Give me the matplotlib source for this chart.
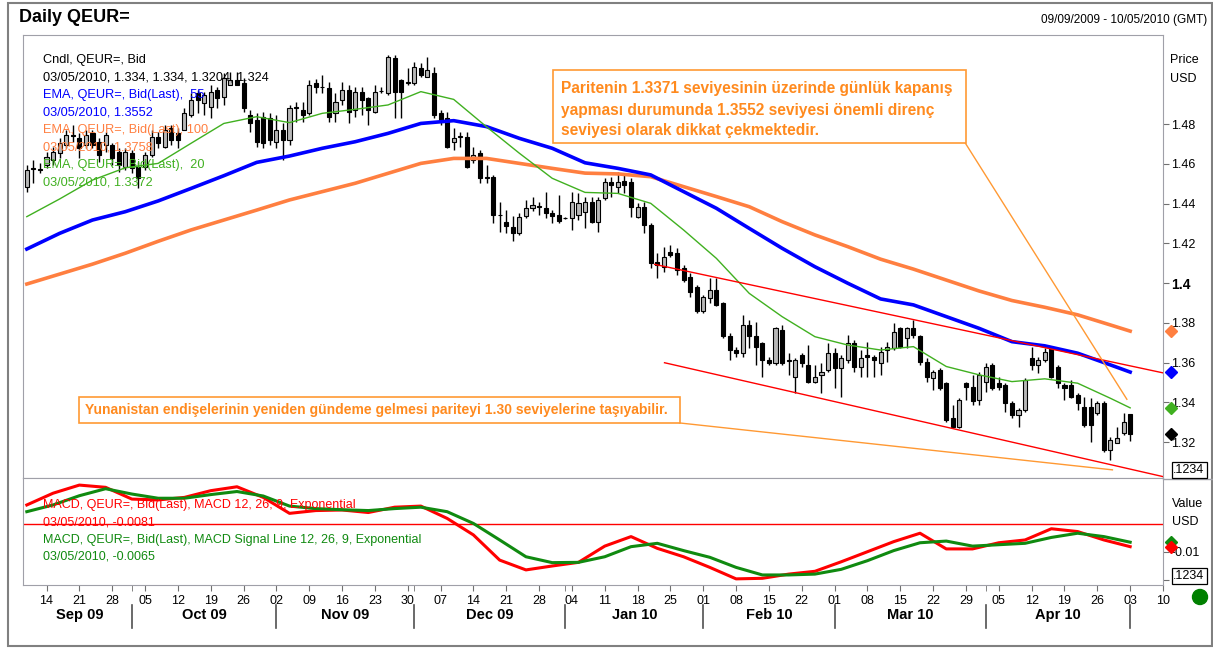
import matplotlib
matplotlib.use("Agg")
import matplotlib.pyplot as plt
import numpy as np
import pandas as pd
from matplotlib.patches import Rectangle, Ellipse
from matplotlib.lines import Line2D

plt.rcParams['font.family'] = ['Liberation Sans', 'DejaVu Sans']

# trading days on the time axis (last candle 03 May 2010, axis runs to 10 May)
days = pd.bdate_range('2009-09-09', '2010-05-10')

opens = [1.4485, 1.4578, 1.4575, 1.4594, 1.4619, 1.4653, 1.4694, 1.4745, 1.4728, 1.4694,
         1.4753, 1.4711, 1.4694, 1.4694, 1.4661, 1.4586, 1.4653, 1.4586, 1.4586, 1.4644,
         1.4736, 1.4686, 1.4778, 1.4753, 1.4770, 1.4846, 1.4955, 1.4904, 1.4887, 1.4971,
         1.4938, 1.4996, 1.5021, 1.5005, 1.4846, 1.4820, 1.4837, 1.4829, 1.4711, 1.4770,
         1.4720, 1.4885, 1.4871, 1.4854, 1.5004, 1.4988, 1.4980, 1.4854, 1.4921, 1.4971,
         1.4870, 1.4963, 1.4929, 1.4862, 1.4965, 1.4954, 1.5130, 1.5021, 1.5004, 1.5004,
         1.5080, 1.5038, 1.5055, 1.4854, 1.4829, 1.4712, 1.4733, 1.4737, 1.4620, 1.4653,
         1.4532, 1.4536, 1.4343, 1.4305, 1.4281, 1.4251, 1.4335, 1.4377, 1.4390, 1.4377,
         1.4352, 1.4343, 1.4327, 1.4327, 1.4343, 1.4359, 1.4410, 1.4309, 1.4426, 1.4510,
         1.4485, 1.4515, 1.4510, 1.4334, 1.4384, 1.4292, 1.4108, 1.4082, 1.4158, 1.4149,
         1.4074, 1.4032, 1.3982, 1.3857, 1.3923, 1.3965, 1.3898, 1.3731, 1.3663, 1.3647,
         1.3789, 1.3731, 1.3697, 1.3613, 1.3596, 1.3764, 1.3610, 1.3529, 1.3638, 1.3588,
         1.3504, 1.3538, 1.3563, 1.3646, 1.3571, 1.3613, 1.3697, 1.3580, 1.3640, 1.3630,
         1.3596, 1.3663, 1.3672, 1.3772, 1.3722, 1.3772, 1.3731, 1.3605, 1.3521, 1.3563,
         1.3496, 1.3320, 1.3278, 1.3496, 1.3479, 1.3412, 1.3504, 1.3588, 1.3496, 1.3487,
         1.3395, 1.3337, 1.3362, 1.3622, 1.3588, 1.3613, 1.3672, 1.3580, 1.3487, 1.3487,
         1.3437, 1.3378, 1.3378, 1.3345, 1.3395, 1.3160, 1.3194, 1.3244, 1.3340]
highs = [1.4594, 1.4619, 1.4602, 1.4661, 1.4686, 1.4728, 1.4770, 1.4795, 1.4753, 1.4770,
         1.4770, 1.4728, 1.4761, 1.4703, 1.4678, 1.4678, 1.4669, 1.4611, 1.4661, 1.4770,
         1.4761, 1.4795, 1.4795, 1.4778, 1.4879, 1.4955, 1.4971, 1.4963, 1.4996, 1.4988,
         1.5055, 1.5063, 1.5063, 1.5030, 1.4871, 1.4854, 1.4862, 1.4854, 1.4846, 1.4804,
         1.4896, 1.4913, 1.4913, 1.5021, 1.5029, 1.5046, 1.5012, 1.4954, 1.5012, 1.4996,
         1.4988, 1.4988, 1.4937, 1.4996, 1.4988, 1.5147, 1.5147, 1.5029, 1.5080, 1.5113,
         1.5105, 1.5138, 1.5088, 1.4870, 1.4862, 1.4778, 1.4762, 1.4762, 1.4686, 1.4670,
         1.4594, 1.4544, 1.4410, 1.4368, 1.4335, 1.4352, 1.4419, 1.4435, 1.4410, 1.4460,
         1.4368, 1.4444, 1.4330, 1.4460, 1.4452, 1.4435, 1.4435, 1.4435, 1.4527, 1.4535,
         1.4560, 1.4543, 1.4527, 1.4401, 1.4410, 1.4301, 1.4149, 1.4183, 1.4191, 1.4175,
         1.4091, 1.4049, 1.3990, 1.3940, 1.4024, 1.4024, 1.3907, 1.3747, 1.3680, 1.3839,
         1.3814, 1.3806, 1.3705, 1.3630, 1.3781, 1.3789, 1.3646, 1.3622, 1.3646, 1.3689,
         1.3588, 1.3596, 1.3697, 1.3672, 1.3638, 1.3739, 1.3714, 1.3663, 1.3705, 1.3638,
         1.3680, 1.3705, 1.3798, 1.3781, 1.3781, 1.3814, 1.3739, 1.3621, 1.3563, 1.3571,
         1.3504, 1.3387, 1.3420, 1.3504, 1.3538, 1.3554, 1.3596, 1.3596, 1.3529, 1.3496,
         1.3404, 1.3370, 1.3521, 1.3680, 1.3630, 1.3672, 1.3680, 1.3588, 1.3496, 1.3513,
         1.3446, 1.3429, 1.3420, 1.3404, 1.3404, 1.3227, 1.3278, 1.3345, 1.3340]
lows = [1.4460, 1.4502, 1.4552, 1.4577, 1.4594, 1.4627, 1.4678, 1.4711, 1.4627, 1.4678,
        1.4678, 1.4611, 1.4661, 1.4594, 1.4560, 1.4569, 1.4552, 1.4477, 1.4569, 1.4636,
        1.4678, 1.4678, 1.4694, 1.4678, 1.4770, 1.4837, 1.4854, 1.4846, 1.4829, 1.4879,
        1.4896, 1.4996, 1.4996, 1.4862, 1.4761, 1.4686, 1.4678, 1.4694, 1.4678, 1.4619,
        1.4694, 1.4812, 1.4812, 1.4846, 1.4954, 1.4954, 1.4812, 1.4812, 1.4896, 1.4804,
        1.4837, 1.4845, 1.4795, 1.4854, 1.4954, 1.4946, 1.4829, 1.4829, 1.4996, 1.4996,
        1.5038, 1.5038, 1.4829, 1.4795, 1.4678, 1.4670, 1.4686, 1.4578, 1.4603, 1.4502,
        1.4502, 1.4301, 1.4259, 1.4251, 1.4209, 1.4243, 1.4326, 1.4360, 1.4343, 1.4326,
        1.4301, 1.4301, 1.4322, 1.4268, 1.4318, 1.4276, 1.4301, 1.4259, 1.4418, 1.4435,
        1.4451, 1.4451, 1.4334, 1.4326, 1.4250, 1.4074, 1.4024, 1.4057, 1.4133, 1.4041,
        1.4007, 1.3932, 1.3848, 1.3848, 1.3898, 1.3882, 1.3722, 1.3613, 1.3630, 1.3630,
        1.3672, 1.3588, 1.3529, 1.3588, 1.3588, 1.3588, 1.3538, 1.3445, 1.3579, 1.3495,
        1.3495, 1.3445, 1.3554, 1.3470, 1.3428, 1.3596, 1.3554, 1.3529, 1.3529, 1.3529,
        1.3538, 1.3605, 1.3663, 1.3672, 1.3672, 1.3722, 1.3588, 1.3504, 1.3462, 1.3462,
        1.3303, 1.3270, 1.3270, 1.3412, 1.3387, 1.3387, 1.3454, 1.3462, 1.3462, 1.3353,
        1.3320, 1.3278, 1.3353, 1.3563, 1.3546, 1.3605, 1.3521, 1.3471, 1.3412, 1.3420,
        1.3362, 1.3278, 1.3202, 1.3337, 1.3152, 1.3110, 1.3194, 1.3236, 1.3204]
closes = [1.4568, 1.4572, 1.4570, 1.4636, 1.4661, 1.4703, 1.4745, 1.4740, 1.4678, 1.4745,
          1.4694, 1.4644, 1.4745, 1.4627, 1.4594, 1.4661, 1.4577, 1.4527, 1.4644, 1.4736,
          1.4703, 1.4770, 1.4720, 1.4720, 1.4854, 1.4921, 1.4921, 1.4946, 1.4963, 1.4929,
          1.5030, 1.5021, 1.4996, 1.4879, 1.4804, 1.4711, 1.4703, 1.4720, 1.4770, 1.4720,
          1.4879, 1.4879, 1.4846, 1.4996, 1.4985, 1.4985, 1.4837, 1.4912, 1.4971, 1.4862,
          1.4963, 1.4921, 1.4870, 1.4963, 1.4968, 1.5138, 1.4963, 1.4963, 1.5012, 1.5088,
          1.5046, 1.5071, 1.4845, 1.4820, 1.4686, 1.4728, 1.4742, 1.4586, 1.4644, 1.4528,
          1.4530, 1.4343, 1.4340, 1.4285, 1.4251, 1.4330, 1.4377, 1.4393, 1.4385, 1.4352,
          1.4335, 1.4310, 1.4326, 1.4410, 1.4402, 1.4410, 1.4309, 1.4418, 1.4510, 1.4493,
          1.4510, 1.4493, 1.4384, 1.4384, 1.4292, 1.4099, 1.4091, 1.4133, 1.4141, 1.4066,
          1.4015, 1.3957, 1.3857, 1.3932, 1.3965, 1.3890, 1.3731, 1.3663, 1.3647, 1.3789,
          1.3731, 1.3680, 1.3613, 1.3596, 1.3772, 1.3596, 1.3615, 1.3613, 1.3596, 1.3504,
          1.3529, 1.3554, 1.3646, 1.3571, 1.3621, 1.3697, 1.3580, 1.3621, 1.3630, 1.3613,
          1.3655, 1.3680, 1.3756, 1.3680, 1.3772, 1.3739, 1.3605, 1.3529, 1.3554, 1.3471,
          1.3311, 1.3278, 1.3412, 1.3479, 1.3404, 1.3538, 1.3580, 1.3471, 1.3479, 1.3395,
          1.3337, 1.3362, 1.3513, 1.3588, 1.3613, 1.3655, 1.3529, 1.3496, 1.3471, 1.3429,
          1.3395, 1.3286, 1.3286, 1.3395, 1.3160, 1.3211, 1.3219, 1.3303, 1.3240]

# moving averages every 5 trading days
ema_idx = list(range(0, 166, 5)) + [168]
ema20 = [1.4334, 1.4423, 1.4518, 1.4580, 1.4602, 1.4703, 1.4803, 1.4837, 1.4807, 1.4854,
         1.4874, 1.4896, 1.4963, 1.4924, 1.4786, 1.4653, 1.4527, 1.4456, 1.4451, 1.4401,
         1.4267, 1.4124, 1.3948, 1.3831, 1.3730, 1.3688, 1.3663, 1.3680, 1.3580, 1.3538,
         1.3504, 1.3518, 1.3496, 1.3420, 1.3372]
ema55 = [1.4171, 1.4250, 1.4317, 1.4359, 1.4413, 1.4476, 1.4540, 1.4607, 1.4639, 1.4678,
         1.4711, 1.4753, 1.4803, 1.4817, 1.4787, 1.4728, 1.4678, 1.4605, 1.4577, 1.4544,
         1.4460, 1.4376, 1.4275, 1.4175, 1.4082, 1.3999, 1.3920, 1.3890, 1.3831, 1.3772,
         1.3705, 1.3684, 1.3647, 1.3588, 1.3552]
ema100 = [1.3995, 1.4045, 1.4095, 1.4150, 1.4210, 1.4267, 1.4317, 1.4367, 1.4418, 1.4460,
          1.4502, 1.4552, 1.4602, 1.4627, 1.4627, 1.4602, 1.4577, 1.4553, 1.4549, 1.4535,
          1.4485, 1.4435, 1.4384, 1.4309, 1.4242, 1.4183, 1.4120, 1.4070, 1.4015, 1.3960,
          1.3912, 1.3878, 1.3840, 1.3789, 1.3758]

# MACD panel, read every 4 trading days
macd_idx = list(range(0, 169, 4))
macd = [0.0068, 0.0110, 0.0139, 0.0131, 0.0089, 0.0086, 0.0095, 0.0119, 0.0133, 0.0095,
        0.0038, 0.0048, 0.0050, 0.0041, 0.0060, 0.0064, 0.0020, -0.0039, -0.0129, -0.0164,
        -0.0150, -0.0137, -0.0079, -0.0045, -0.0087, -0.0117, -0.0155, -0.0196, -0.0194, -0.0179,
        -0.0169, -0.0135, -0.0099, -0.0063, -0.0033, -0.0089, -0.0089, -0.0067, -0.0057, -0.0017,
        -0.0027, -0.0057, -0.0081]
signal = [0.0044, 0.0068, 0.0101, 0.0126, 0.0107, 0.0092, 0.0092, 0.0105, 0.0116, 0.0100,
          0.0064, 0.0055, 0.0051, 0.0048, 0.0055, 0.0060, 0.0044, 0.0002, -0.0057, -0.0117,
          -0.0138, -0.0137, -0.0117, -0.0081, -0.0069, -0.0095, -0.0119, -0.0155, -0.0182, -0.0182,
          -0.0179, -0.0162, -0.0131, -0.0095, -0.0067, -0.0061, -0.0079, -0.0074, -0.0069, -0.0048,
          -0.0033, -0.0045, -0.0065]

# drawn trend lines: (x index pair, price pair)
chan_upper = ([95.6, 173.0], [1.4094, 1.3548])
chan_lower = ([97.1, 173.0], [1.3599, 1.3026])
note_line_top = ([142.9, 167.5], [1.4704, 1.3415])
note_line_bottom = ([99.4, 165.3], [1.3296, 1.3060])

legend_main = [("Cndl, QEUR=, Bid", "black"),
               ("03/05/2010, 1.334, 1.334, 1.3204, 1.324", "black"),
               ("EMA, QEUR=, Bid(Last),  55", "#0000ff"),
               ("03/05/2010, 1.3552", "#0000ff"),
               ("EMA, QEUR=, Bid(Last), 100", "#ff7f40"),
               ("03/05/2010, 1.3758", "#ff7f40"),
               ("EMA, QEUR=, Bid(Last),  20", "#40b020"),
               ("03/05/2010, 1.3372", "#40b020")]
legend_macd = [("MACD, QEUR=, Bid(Last), MACD 12, 26, 9, Exponential", "#ff0000"),
               ("03/05/2010, -0.0081", "#ff0000"),
               ("MACD, QEUR=, Bid(Last), MACD Signal Line 12, 26, 9, Exponential", "#108a10"),
               ("03/05/2010, -0.0065", "#108a10")]
note_top = ["Paritenin 1.3371 seviyesinin üzerinde günlük kapanış",
            "yapması durumunda 1.3552 seviyesi önemli direnç",
            "seviyesi olarak dikkat çekmektedir."]
note_bottom = "Yunanistan endişelerinin yeniden gündeme gelmesi pariteyi 1.30 seviyelerine taşıyabilir."

W, H = 1213, 648
fig = plt.figure(figsize=(W / 100, H / 100), dpi=100)
fig.patch.set_facecolor('white')


def fx(px):
    return px / W


def fy(py):
    return 1 - py / H


ax = fig.add_axes([fx(23), fy(478), fx(1163) - fx(23), fy(35) - fy(478)])
axm = fig.add_axes([fx(23), fy(585), fx(1163) - fx(23), fy(478) - fy(585)], sharex=ax)

frame_col = '#a0a0a8'
for a in (ax, axm):
    for s in a.spines.values():
        s.set_color(frame_col)
    a.yaxis.tick_right()
    a.tick_params(axis='y', length=4, color='#707070', labelsize=9, pad=2)

# candles
n = len(closes)
idx = np.arange(n)
o = np.array(opens)
c = np.array(closes)
up = c >= o
ax.vlines(idx, lows, highs, color='black', lw=1, zorder=2)
bottoms = np.minimum(o, c)
heights = np.maximum(np.abs(c - o), 0.00025)
faces = np.where(up, '#b8b8b8', 'black')
ax.bar(idx, heights, width=0.62, bottom=bottoms, color=faces, edgecolor='black',
       linewidth=0.8, zorder=3)

ax.plot(ema_idx, ema100, color='#ff7f40', lw=2.6, zorder=4, solid_joinstyle='round')
ax.plot(ema_idx, ema55, color='#0000ff', lw=2.6, zorder=4, solid_joinstyle='round')
ax.plot(ema_idx, ema20, color='#40b020', lw=1.0, zorder=4)

ax.plot(*chan_upper, color='#ff0000', lw=1, zorder=5)
ax.plot(*chan_lower, color='#ff0000', lw=1, zorder=5)
ax.plot(*note_line_top, color='#ff9933', lw=1, zorder=5)
ax.plot(*note_line_bottom, color='#ff9933', lw=1, zorder=5)

ax.set_xlim(-0.58, 173.0)
ax.set_ylim(1.3019, 1.5248)
yt = np.round(np.arange(1.32, 1.481, 0.02), 2)
ax.set_yticks(yt)
ax.set_yticklabels([('%.2f' % v).rstrip('0') for v in yt])
for lab in ax.get_yticklabels():
    if lab.get_text() == '1.4':
        lab.set_fontweight('bold')
        lab.set_fontsize(10)
ax.tick_params(axis='x', length=0, labelbottom=False)

# last-value markers on the price scale
ytr = ax.get_yaxis_transform()
for val, col in [(ema100[-1], '#ff7f40'), (ema55[-1], '#0000ff'),
                 (ema20[-1], '#40b020'), (closes[-1], 'black')]:
    ax.plot([1.007], [val], marker='D', ms=6, color=col, transform=ytr, clip_on=False, zorder=6)

# MACD panel
axm.axhline(0, color='#ff0000', lw=1)
axm.plot(macd_idx, macd, color='#ff0000', lw=2.2, solid_joinstyle='round')
axm.plot(macd_idx, signal, color='#108a10', lw=2.2, solid_joinstyle='round')
axm.set_ylim(-0.02179, 0.01643)
axm.set_yticks([-0.02, -0.01])
axm.set_yticklabels(['', '-0.01'])
ytm = axm.get_yaxis_transform()
axm.plot([1.007], [signal[-1]], marker='D', ms=6, color='#108a10', transform=ytm, clip_on=False)
axm.plot([1.007], [macd[-1]], marker='D', ms=6, color='#ff0000', transform=ytm, clip_on=False)

# time axis: Mondays as day numbers, months below
mondays = [i for i, d in enumerate(days) if d.weekday() == 0]
axm.set_xticks(mondays)
axm.set_xticklabels([days[i].strftime('%d') for i in mondays])
month_starts = [0] + [i for i in range(1, len(days)) if days[i].month != days[i - 1].month]
axm.set_xticks(month_starts[1:], minor=True)
axm.tick_params(axis='x', which='both', length=4, color='#707070', labelsize=9, pad=3)
xtr = axm.get_xaxis_transform()
for k, ms in enumerate(month_starts):
    if k > 0:
        axm.plot([ms, ms], [-0.19, -0.40], transform=xtr, color='#505050', lw=1.2, clip_on=False)
    if k + 1 < len(month_starts):
        mid = (ms + month_starts[k + 1]) / 2
        axm.text(mid, -0.285, days[ms].strftime('%b %y'), transform=xtr, ha='center',
                 va='center', fontsize=10.5, fontweight='bold')

# texts
fig.text(fx(19), fy(18), 'Daily QEUR=', fontsize=13, fontweight='bold', va='center')
fig.text(fx(1207), fy(20), '09/09/2009 - 10/05/2010 (GMT)', fontsize=8.5, ha='right', va='center')
for k, (txt, col) in enumerate(legend_main):
    fig.text(fx(43), fy(60 + 17.5 * k), txt, color=col, fontsize=9.2, va='center')
for k, (txt, col) in enumerate(legend_macd):
    fig.text(fx(43), fy(505 + 17.3 * k), txt, color=col, fontsize=9.0, va='center')

fig.text(fx(1170), fy(60), 'Price', fontsize=9, va='center')
fig.text(fx(1170), fy(79), 'USD', fontsize=9, va='center')
fig.text(fx(1172), fy(504), 'Value', fontsize=9, va='center')
fig.text(fx(1172), fy(522), 'USD', fontsize=9, va='center')
for yy in (470, 576):
    fig.text(fx(1189), fy(yy), '.1234', fontsize=9, ha='center', va='center',
             bbox=dict(boxstyle='square,pad=0.15', fc='white', ec='black', lw=0.9))

# annotation boxes
orange = '#ff8a1e'
fig.add_artist(Rectangle((fx(553), fy(143)), fx(966) - fx(553), fy(70) - fy(143),
                         transform=fig.transFigure, fill=True, fc='white', ec='#ff9933', lw=1.2))
for k, line in enumerate(note_top):
    fig.text(fx(561), fy(89 + 21 * k), line, color=orange, fontsize=11.2, fontweight='bold', va='center')
fig.add_artist(Rectangle((fx(79), fy(423)), fx(680) - fx(79), fy(397) - fy(423),
                         transform=fig.transFigure, fill=True, fc='white', ec='#ff9933', lw=1.2))
fig.text(fx(85), fy(410), note_bottom, color=orange, fontsize=10.0, fontweight='bold', va='center')

# frame pieces
fig.add_artist(Line2D([fx(1163), fx(1212)], [fy(479), fy(479)], transform=fig.transFigure,
                      color=frame_col, lw=1))
fig.add_artist(Rectangle((fx(8), fy(646)), fx(1212) - fx(8), fy(3) - fy(646),
                         transform=fig.transFigure, fill=False, ec='#808080', lw=1.5))
fig.add_artist(Ellipse((fx(1200), fy(597)), 15 / W, 15 / H, transform=fig.transFigure,
                       color='#008000'))

fig.savefig('out.png', dpi=100)
